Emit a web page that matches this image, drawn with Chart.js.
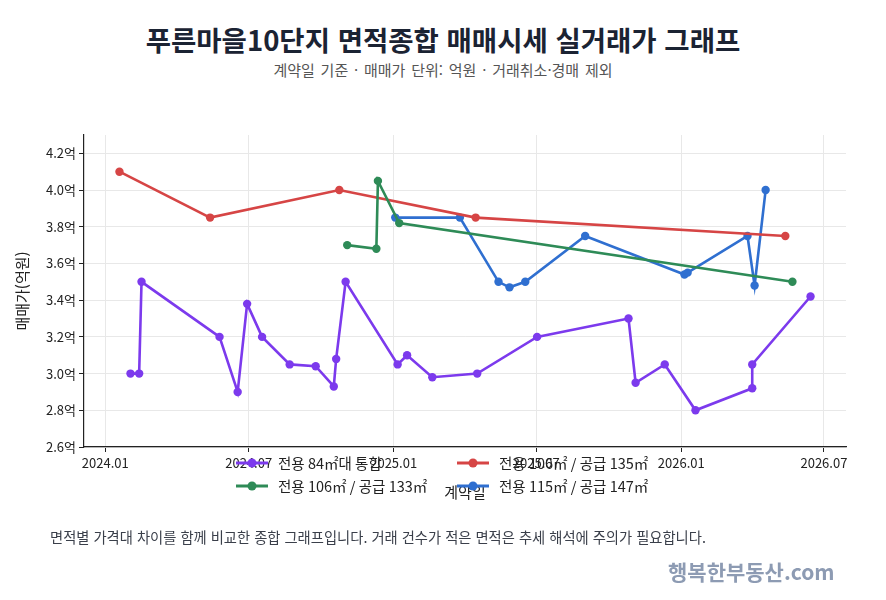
<!DOCTYPE html>
<html lang="ko">
<head>
<meta charset="utf-8">
<script src="https://cdn.jsdelivr.net/npm/chart.js@4.4.1/dist/chart.umd.min.js"></script>
<style>
  body { margin: 0; background: #fff; font-family: 'Noto Sans CJK KR', 'Noto Sans', sans-serif; }
  #wrap { position: relative; width: 886px; height: 600px; overflow: hidden; }
  #title { position: absolute; top: 19px; left: 0; width: 886px; text-align: center; font-size: 27.5px; font-weight: bold; color: #1b2333; line-height: 40px; }
  #sub { position: absolute; top: 60px; left: 0; width: 886px; text-align: center; font-size: 15px; color: #555; line-height: 20px; word-spacing: 1.6px; }
  #note { position: absolute; top: 527px; left: 50px; font-size: 14.3px; color: #3a3f4a; line-height: 20px; }
  #mark { position: absolute; top: 557px; left: 668px; font-size: 21px; font-weight: bold; color: #8d9bb3; line-height: 28px; }
  canvas { position: absolute; left: 0; top: 0; }
</style>
</head>
<body>
<div id="wrap">
  <div id="title">푸른마을10단지 면적종합 매매시세 실거래가 그래프</div>
  <div id="sub">계약일 기준 · 매매가 단위: 억원 · 거래취소·경매 제외</div>
  <canvas id="myChart" width="886" height="600"></canvas>
  <div id="note">면적별 가격대 차이를 함께 비교한 종합 그래프입니다. 거래 건수가 적은 면적은 추세 해석에 주의가 필요합니다.</div>
  <div id="mark">행복한부동산.com</div>
</div>
<script>
// 시리즈 이름
const seriesLabels = ["전용 84㎡대 통합", "전용 106㎡ / 공급 133㎡", "전용 106㎡ / 공급 135㎡", "전용 115㎡ / 공급 147㎡"];
const seriesColors = ["#7c3aed", "#2e8b57", "#d64545", "#2f6fd0"];

// 전용 84㎡대
const dates84 = ["2024-02-02", "2024-02-13", "2024-02-16", "2024-05-25", "2024-06-17", "2024-06-29", "2024-07-18",
  "2024-08-22", "2024-09-24", "2024-10-17", "2024-10-20", "2024-11-01", "2025-01-06", "2025-01-18", "2025-02-19",
  "2025-04-17", "2025-07-02", "2025-10-26", "2025-11-04", "2025-12-11", "2026-01-19", "2026-04-01", "2026-04-01", "2026-06-14"];
const prices84 = [3.0, 3.0, 3.5, 3.2, 2.9, 3.38, 3.2, 3.05, 3.04, 2.93, 3.08, 3.5, 3.05, 3.1, 2.98,
  3.0, 3.2, 3.3, 2.95, 3.05, 2.8, 2.92, 3.05, 3.42];

// 전용 106㎡ / 공급 133㎡
const dates106a = ["2024-11-03", "2024-12-10", "2024-12-12", "2025-01-08", "2026-05-22"];
const prices106a = [3.7, 3.68, 4.05, 3.82, 3.5];

// 전용 106㎡ / 공급 135㎡
const dates106b = ["2024-01-19", "2024-05-13", "2024-10-24", "2025-04-15", "2026-05-13"];
const prices106b = [4.1, 3.85, 4.0, 3.85, 3.75];

// 전용 115㎡ / 공급 147㎡
const dates115 = ["2025-01-03", "2025-03-26", "2025-05-14", "2025-05-28", "2025-06-17", "2025-09-01",
  "2026-01-05", "2026-01-09", "2026-03-26", "2026-04-04", "2026-04-18"];
const prices115 = [3.85, 3.85, 3.5, 3.47, 3.5, 3.75, 3.54, 3.55, 3.75, 3.48, 4.0];

// x축 눈금
const tickDates = ["2024-01-01", "2024-07-01", "2025-01-01", "2025-07-01", "2026-01-01", "2026-07-01"];
const tickLabels = ["2024.01", "2024.07", "2025.01", "2025.07", "2026.01", "2026.07"];
const xMinDate = "2023-12-05";
const xMaxDate = "2026-07-29";

function toDay(s) {
  const p = s.split("-").map(Number);
  return (Date.UTC(p[0], p[1] - 1, p[2]) - Date.UTC(2024, 0, 1)) / 86400000;
}

function makePoints(dates, prices) {
  return dates.map((d, i) => ({ x: toDay(d), y: prices[i] }));
}

const allDates = [dates84, dates106a, dates106b, dates115];
const allPrices = [prices84, prices106a, prices106b, prices115];
const tickDays = tickDates.map(toDay);

const FONT = "'Noto Sans CJK KR', 'Noto Sans', sans-serif";
Chart.defaults.font.family = FONT;
Chart.defaults.color = "#222";

// matplotlib 스타일 2열 범례
const colLegend = {
  id: "colLegend",
  afterDraw(chart) {
    const ctx = chart.ctx;
    const colX = [236, 457];
    const rowY = [463, 486];
    ctx.save();
    ctx.font = "14.5px " + FONT;
    ctx.textBaseline = "middle";
    chart.data.datasets.forEach((ds, i) => {
      const x = colX[Math.floor(i / 2)];
      const y = rowY[i % 2];
      ctx.strokeStyle = ds.borderColor;
      ctx.lineWidth = 3;
      ctx.beginPath();
      ctx.moveTo(x, y);
      ctx.lineTo(x + 32, y);
      ctx.stroke();
      ctx.fillStyle = ds.borderColor;
      ctx.beginPath();
      ctx.arc(x + 16, y, 4.5, 0, Math.PI * 2);
      ctx.fill();
      ctx.fillStyle = "#222";
      ctx.fillText(ds.label, x + 42, y);
    });
    ctx.restore();
  },
};

const ctx = document.getElementById("myChart").getContext("2d");
const myChart = new Chart(ctx, {
  type: "line",
  data: {
    datasets: seriesLabels.map((label, i) => ({
      label: label,
      data: makePoints(allDates[i], allPrices[i]),
      borderColor: seriesColors[i],
      backgroundColor: seriesColors[i],
      borderWidth: 2.6,
      pointRadius: 4.2,
      pointBorderWidth: 0,
      tension: 0,
    })),
  },
  options: {
    responsive: false,
    animation: false,
    layout: { padding: { left: 0, top: 135, right: 40, bottom: 99 } },
    plugins: {
      legend: { display: false },
      title: { display: false },
      tooltip: { enabled: false },
    },
    scales: {
      x: {
        type: "linear",
        min: toDay(xMinDate),
        max: toDay(xMaxDate),
        afterBuildTicks: (axis) => {
          axis.ticks = tickDays.map((v) => ({ value: v }));
        },
        afterFit: (axis) => {
          axis.height = 54;
        },
        ticks: {
          font: { size: 13 },
          color: "#222",
          padding: 3,
          maxRotation: 0,
          callback: (v) => {
            const i = tickDays.indexOf(v);
            return i >= 0 ? tickLabels[i] : "";
          },
        },
        grid: { color: "#e8e8e8", tickColor: "#222", tickLength: 5 },
        border: { color: "#222", width: 1.2 },
        title: { display: true, text: "계약일", font: { size: 15 }, color: "#222", padding: { top: 0, bottom: 0 } },
      },
      y: {
        min: 2.6,
        max: 4.3,
        afterFit: (axis) => {
          axis.width = 84;
        },
        ticks: {
          stepSize: 0.2,
          includeBounds: false,
          font: { size: 13 },
          color: "#222",
          padding: 3,
          callback: (v) => v.toFixed(1) + "억",
        },
        grid: { color: "#e8e8e8", tickColor: "#222", tickLength: 5 },
        border: { color: "#222", width: 1.2 },
        title: { display: true, text: "매매가(억원)", font: { size: 15 }, color: "#222", padding: { top: 13, bottom: 0 } },
      },
    },
  },
  plugins: [colLegend],
});
</script>
</body>
</html>
